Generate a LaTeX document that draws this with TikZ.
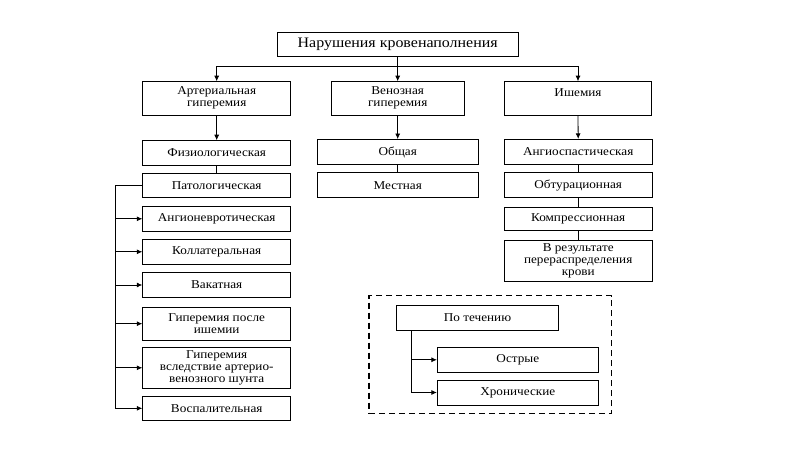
\documentclass[tikz,border=0pt]{standalone}
\usepackage{fontspec}
\setmainfont[FakeStretch=1.1]{Liberation Serif}
\usetikzlibrary{arrows.meta}
\begin{document}
\begin{tikzpicture}[x=1pt,y=-1pt,
  bx/.style={draw, line width=0.8pt, rectangle, align=center, inner sep=1pt, font=\fontsize{12}{12}\selectfont},
  arr/.style={line width=0.8pt, -{Latex[length=5.5pt,width=5pt]}},
  ln/.style={line width=0.8pt}]
\useasboundingbox[fill=white] (0,0) rectangle (800,449);
% level 0
\node[bx, minimum width=241pt, minimum height=24pt, font=\fontsize{14.5}{15}\selectfont] (top) at (397.7,44.7) {Нарушения кровенаполнения};
% level 1
\node[bx, minimum width=148pt, minimum height=33.3pt] (art) at (216.7,98.3) {Артериальная\\гиперемия};
\node[bx, minimum width=133.6pt, minimum height=33.3pt] (ven) at (397.7,98.3) {Венозная\\гиперемия};
\node[bx, minimum width=147.4pt, minimum height=33.3pt] (isch) at (578,98.3) {Ишемия\\[0pt]\mbox{}};
% arterial column
\node[bx, minimum width=148pt, minimum height=24.3pt] (fiz) at (216.7,152.8) {Физиологическая};
\node[bx, minimum width=148pt, minimum height=24pt] (pat) at (216.7,185.3) {Патологическая};
\node[bx, minimum width=148pt, minimum height=24.3pt] (ang) at (216.7,218.8) {Ангионевротическая};
\node[bx, minimum width=148pt, minimum height=25pt] (kol) at (216.7,251.8) {Коллатеральная};
\node[bx, minimum width=148pt, minimum height=25.4pt] (vak) at (216.7,285) {Вакатная};
\node[bx, minimum width=148pt, minimum height=32.7pt] (gpi) at (216.7,323.7) {Гиперемия после\\ишемии};
\node[bx, minimum width=148pt, minimum height=41pt] (gav) at (216.7,367.8) {Гиперемия\\вследствие артерио-\\венозного шунта};
\node[bx, minimum width=148pt, minimum height=23.3pt] (vos) at (216.7,408.3) {Воспалительная};
% venous column
\node[bx, minimum width=160.7pt, minimum height=25pt] (obsh) at (397.7,152) {Общая};
\node[bx, minimum width=160.7pt, minimum height=25pt] (mest) at (397.7,185.2) {Местная};
% ischemia column
\node[bx, minimum width=148.3pt, minimum height=25pt] (asp) at (578.2,151.8) {Ангиоспастическая};
\node[bx, minimum width=148.3pt, minimum height=25pt] (obt) at (578.2,185.2) {Обтурационная};
\node[bx, minimum width=148.3pt, minimum height=23pt] (komp) at (578.2,219.2) {Компрессионная};
\node[bx, minimum width=148.3pt, minimum height=41.7pt] (vrez) at (578.2,260.8) {В результате\\перераспределения\\крови};
% dashed frame
\node[draw, dash pattern=on 6pt off 4pt, line width=1.3pt, minimum width=242.7pt, minimum height=117.6pt, inner sep=0pt] (frame) at (490.35,354.5) {};
\node[bx, minimum width=161.6pt, minimum height=25pt] (pot) at (477.5,317.5) {По течению};
\node[bx, minimum width=161pt, minimum height=25pt] (ostr) at (517.8,359.8) {Острые};
\node[bx, minimum width=161pt, minimum height=25pt] (khr) at (517.8,392.5) {Хронические};
% connectors level 0 -> 1
\coordinate (hl) at (397.7,66);
\draw[ln] (top.south) -- (hl);
\draw[arr] (hl) -| (art.north);
\draw[arr] (hl) -| (isch.north);
\draw[arr] (top.south) -- (ven.north);
% level 1 -> 2
\draw[arr] (art.south) -- (fiz.north);
\draw[arr] (ven.south) -- (obsh.north);
\draw[arr] (isch.south) -- (asp.north);
\draw[ln] (fiz.south) -- (pat.north);
\draw[ln] (obsh.south) -- (mest.north);
\draw[ln] (asp.south) -- (obt.north);
\draw[ln] (obt.south) -- (komp.north);
\draw[ln] (komp.south) -- (vrez.north);
% pathological bus
\coordinate (bus) at (115.7,409);
\draw[ln] (pat.west) -| (bus);
\foreach \n in {ang,kol,vak,gpi,gav,vos}
  \draw[arr] (bus |- \n.west) -- (\n.west);
% course bus
\coordinate (cbus) at (411,392.5);
\draw[ln] (pot.south -| cbus) -- (cbus);
\draw[arr] (cbus |- ostr.west) -- (ostr.west);
\draw[arr] (cbus) -- (khr.west);
\end{tikzpicture}
\end{document}
